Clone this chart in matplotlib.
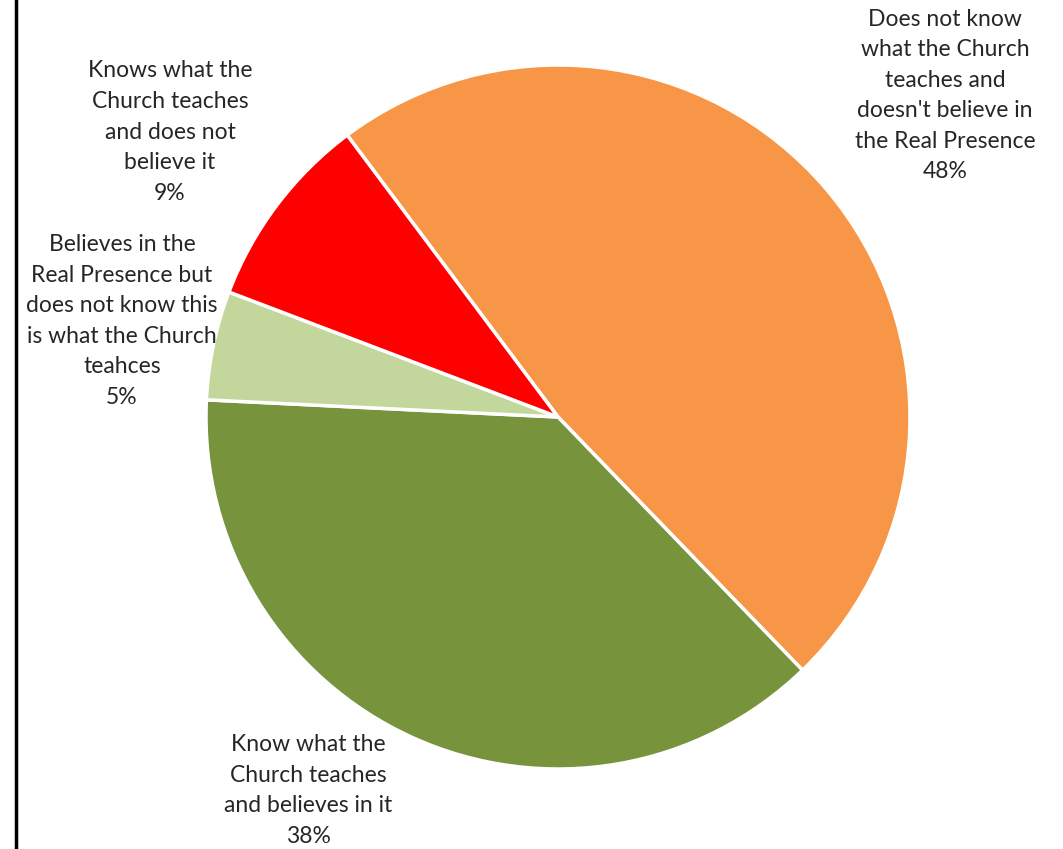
import matplotlib.pyplot as plt

# Survey answers on the Real Presence
labels = [
    "Does not know\nwhat the Church\nteaches and\ndoesn't believe in\nthe Real Presence",
    "Know what the\nChurch teaches\nand believes in it",
    "Believes in the\nReal Presence but\ndoes not know this\nis what the Church\nteahces",
    "Knows what the\nChurch teaches\nand does not\nbelieve it",
]
shares = [48, 38, 5, 9]
colors = ['#F79646', '#77933C', '#C3D69B', '#FF0000']

W, H = 1063, 849
fig = plt.figure(figsize=(W / 100, H / 100), dpi=100)
ax = fig.add_axes([0, 0, 1, 1])

cx, cy, r = 558, H - 417, 352
ax.pie(shares, colors=colors, startangle=126.8, counterclock=False,
       center=(cx, cy), radius=r, frame=True,
       wedgeprops=dict(edgecolor='white', linewidth=2.5))
ax.set_xlim(0, W)
ax.set_ylim(0, H)
ax.set_aspect('equal')
ax.axis('off')

# label blocks (centre of each text block)
label_pos = [(945, 95.5), (308, 790.5), (122, 321), (170, 132)]
for lab, val, (x, y) in zip(labels, shares, label_pos):
    ax.text(x, H - y, f"{lab}\n{val}%", ha='center', va='center',
            fontsize=16.5, family='Lato', color='#262626', linespacing=1.56)

# left edge of the frame
fig.add_artist(plt.Line2D([15.5 / W, 15.5 / W], [0, 1], color='black',
                          linewidth=2.5, transform=fig.transFigure))

fig.savefig('out.png', dpi=100)
